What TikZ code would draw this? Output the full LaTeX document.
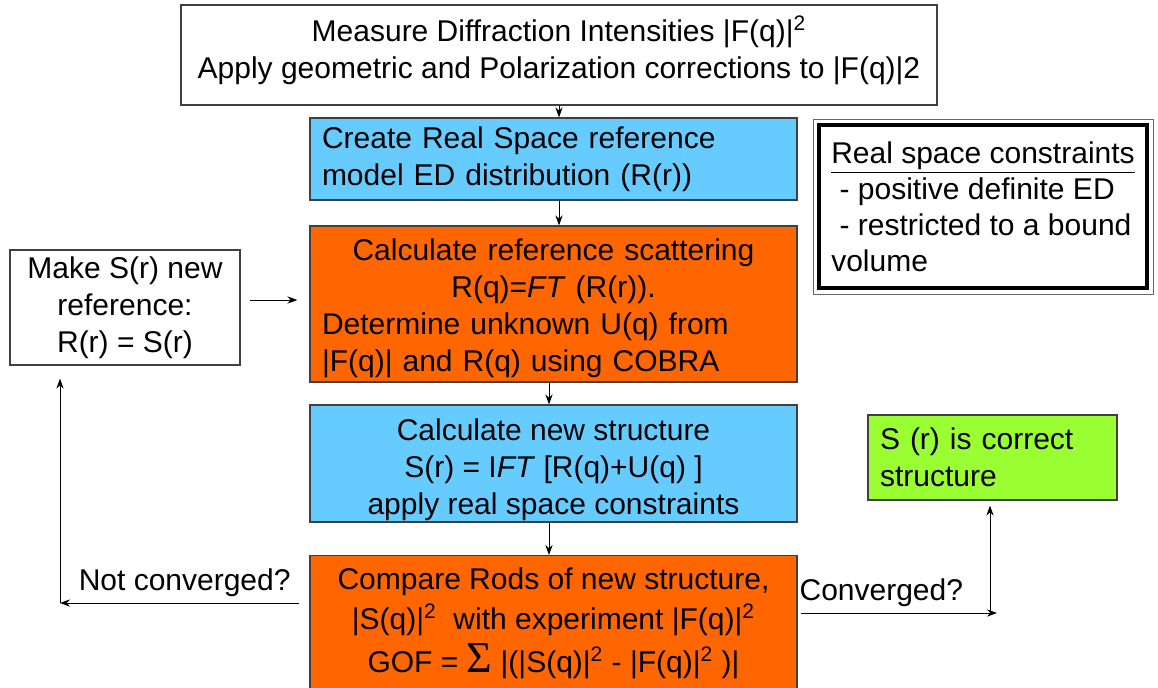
\documentclass[tikz,border=0pt]{standalone}
\usepackage{fontspec}
\setmainfont{Liberation Sans}
\newfontfamily\sigmafont{Liberation Serif}
\usetikzlibrary{arrows.meta}
\definecolor{skyblue}{HTML}{66CCFF}
\definecolor{redorange}{HTML}{FF6600}
\definecolor{limegreen}{HTML}{99FF33}
\tikzset{
    stepbox/.style={draw=black!75,line width=0.6pt,inner xsep=6pt,inner ysep=0pt},
    plainbox/.style={stepbox,fill=white,align=center},
    bluebox/.style={stepbox,fill=skyblue,minimum width=243.5pt},
    orangebox/.style={stepbox,fill=redorange,minimum width=243.5pt},
    flow/.style={->,>={Stealth[length=5pt,width=3.6pt]},line width=0.5pt},
    flowlabel/.style={inner sep=3pt}
}
\begin{document}
\begin{tikzpicture}[x=0.5pt,y=-0.5pt,font=\fontsize{15}{18.5}\selectfont]
\useasboundingbox (0,0) rectangle (1158,687);
% main column
\node[plainbox,minimum width=378pt,minimum height=50pt] (measure) at (559,55)
    {Measure Diffraction Intensities |F(q)|\textsuperscript{2}\\Apply geometric and Polarization corrections to |F(q)|2\rule[-8pt]{0pt}{0pt}};
\node[bluebox,minimum height=41pt,text width=231.5pt,align=left] (model) at (553.5,159)
    {Create Real Space reference\\model ED distribution (R(r))};
\node[orangebox,minimum height=78pt,text width=231.5pt,align=left] (scatter) at (553.5,304)
    {\makebox[\linewidth]{\rule{0pt}{15pt}Calculate reference scattering}\\
     \makebox[\linewidth]{R(q)=\textit{FT} (R(r)).}\\
     Determine unknown U(q) from\\|F(q)| and R(q) using COBRA};
\node[bluebox,minimum height=58.5pt,align=center] (struct) at (553.5,463.5)
    {\rule{0pt}{17pt}Calculate new structure\\S(r) = I\textit{FT} [R(q)+U(q) ]\\apply real space constraints};
\node[orangebox,anchor=north,inner ysep=6pt,align=center] (compare) at (553.5,555)
    {Compare Rods of new structure,\\[1.5pt]
     |S(q)|\textsuperscript{2}\ \ with experiment |F(q)|\textsuperscript{2}\\[3pt]
     GOF = {\sigmafont\fontsize{22}{18.5}\selectfont Σ} |(|S(q)|\textsuperscript{2} - |F(q)|\textsuperscript{2} )|\rule[-25pt]{0pt}{0pt}};
% side boxes
\node[plainbox,minimum width=115pt,minimum height=57.5pt] (mkref) at (125,307.5)
    {Make S(r) new\\reference:\\R(r) = S(r)};
\node[stepbox,fill=limegreen,minimum height=42.5pt,text width=112.5pt,align=left] (correct) at (992.5,457.5)
    {S (r) is correct\\structure};
\node[draw=black,fill=white,line width=2pt,inner sep=0pt,minimum width=164pt,
      minimum height=81.5pt,align=left,font=\fontsize{15}{18}\selectfont] (cons) at (983,206.5)
    {\underline{Real space constraints}\\\ - positive definite ED\\\ - restricted to a bound\\volume};
\draw[black!60,line width=0.5pt] ([shift={(-2pt,2pt)}]cons.north west) rectangle ([shift={(2pt,-2pt)}]cons.south east);
% arrows
\draw[flow] (measure.south) -- (measure.south |- model.north);
\draw[flow] ([xshift=2.75pt]model.south) -- ([xshift=2.75pt]scatter.north);
\draw[flow] ([xshift=-2.25pt]scatter.south) -- ([xshift=-2.25pt]struct.north);
\draw[flow] ([xshift=-2.25pt]struct.south) -- ([xshift=-2.25pt]compare.north);
\draw[flow,shorten <=4.5pt,shorten >=6pt] ([yshift=3.75pt]mkref.east) -- ([yshift=3.75pt]mkref.east -| scatter.west);
% loop back
\coordinate (back) at (60,603);
\draw[flow,shorten <=5pt] (compare.west |- back) -- (back) node[flowlabel,midway,above] {Not converged?};
\draw[flow,shorten >=6.5pt] (back) -- (back |- mkref.south);
% done
\coordinate (done) at (990,613);
\draw[flow,shorten <=1.5pt] (compare.east |- done) -- ([xshift=3.5pt]done) node[flowlabel,pos=0.42,above] {Converged?};
\draw[flow,shorten >=2.5pt] (done) -- (done |- correct.south);
\end{tikzpicture}
\end{document}
